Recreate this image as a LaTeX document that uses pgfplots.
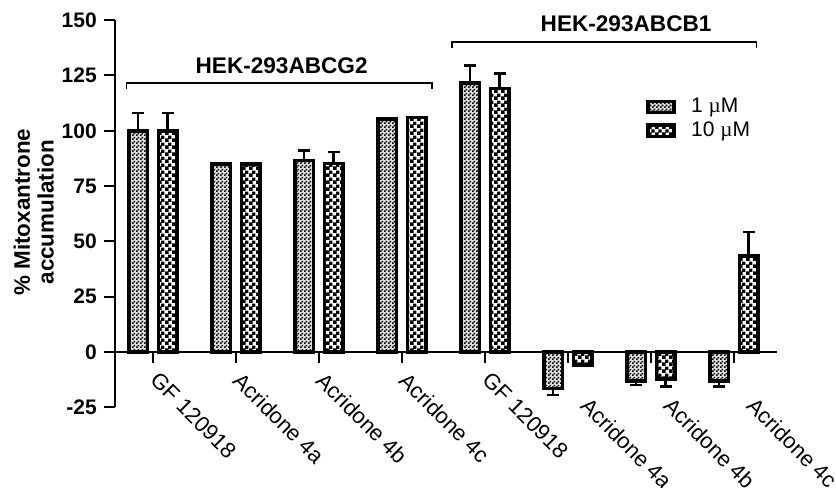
\documentclass[border=0pt]{standalone}
\usepackage{fontspec}
\setmainfont{Liberation Sans}
\newfontfamily\serifmu{Liberation Serif}
\usepackage{pgfplots}
\usepackage{pgfplotstable}
\pgfplotsset{compat=1.18}
\usetikzlibrary{patterns}

\pgfdeclarepatternformonly{finechecker}{\pgfpointorigin}{\pgfqpoint{2pt}{2pt}}{\pgfqpoint{2pt}{2pt}}{%
 \pgfpathrectangle{\pgfpointorigin}{\pgfqpoint{1pt}{1pt}}%
 \pgfpathrectangle{\pgfqpoint{1pt}{1pt}}{\pgfqpoint{1pt}{1pt}}%
 \pgfusepath{fill}}
\pgfdeclarepatternformonly{coarsechecker}{\pgfpointorigin}{\pgfqpoint{3.6pt}{3.6pt}}{\pgfqpoint{3.6pt}{3.6pt}}{%
 \pgfpathrectangle{\pgfpointorigin}{\pgfqpoint{2pt}{2pt}}%
 \pgfpathrectangle{\pgfqpoint{1.8pt}{1.8pt}}{\pgfqpoint{1.8pt}{1.8pt}}%
 \pgfusepath{fill}}

\pgfplotstableread{
x y ep em
0 100 8 0
1 85 0 0
2 86.5 4.5 0
3 105.2 0 0
4 121.5 7.9 0
5 -16.5 0 2.9
6 -13 0 2
7 -13 0 2.7
}\lowdose
\pgfplotstableread{
x y ep em
0 100 8 0
1 85 0 0
2 85.3 5.1 0
3 106 0 0
4 119.2 6.8 0
5 -5.9 0 0
6 -12.2 0 3.5
7 43.4 10.9 0
}\highdose

\begin{document}
\begin{tikzpicture}
\begin{axis}[
  x=41.5pt, y=1.106pt,
  xmin=-0.46, xmax=7.52, ymin=-25, ymax=150,
  axis x line*=middle, axis y line*=left,
  axis line style={line width=1pt},
  clip=false,
  ybar=5.5pt, bar width=9.3pt,
  ytick={-25,0,...,150},
  tick align=outside, major tick length=5.5pt,
  tick style={line width=1pt, black},
  xtick={0,1,2,3,4},
  xticklabels={GF 120918, Acridone 4a, Acridone 4b, Acridone 4c, GF 120918},
  extra x ticks={5,6,7},
  extra x tick labels={Acridone 4a, Acridone 4b, Acridone 4c},
  extra x tick style={xticklabel style={xshift=14.4pt, yshift=-3.3pt}},
  xticklabel style={anchor=north west, font=\fontsize{11}{11}\selectfont, xshift=3.5pt, yshift=1pt, rotate=-45},
  yticklabel style={font=\fontsize{10.5}{10.5}\selectfont\bfseries},
  /pgf/number format/assume math mode=true,
  ylabel={\% Mitoxantrone\\accumulation},
  ylabel style={align=center, font=\fontsize{11.2}{11.8}\selectfont\bfseries,
    at={(axis description cs:-0.1224,0.504)}, anchor=center},
  legend style={at={(axis description cs:0.802,0.803)}, anchor=north west,
    draw=none, fill=none, font=\fontsize{10.5}{10.5}\selectfont,
    row sep=1.3pt, inner sep=0pt, nodes={inner sep=0.8pt}, cells={anchor=west}},
  legend image code/.code={\draw[#1, line width=1.6pt] (0pt,-2.8pt) rectangle (13pt,2.8pt);},
  error bars/y dir=both, error bars/y explicit,
  error bars/error bar style={line width=1.3pt, black, solid},
  error bars/error mark options={line width=1.3pt, mark size=3pt, black, rotate=90},
]
\addplot[draw=black, line width=1.8pt, fill=gray!25, postaction={pattern=finechecker}]
  table[x=x, y=y, y error plus=ep, y error minus=em] {\lowdose};
\addplot[draw=black, line width=1.8pt, fill=white, postaction={pattern=coarsechecker}]
  table[x=x, y=y, y error plus=ep, y error minus=em] {\highdose};
\legend{\hspace{7pt}1 {\serifmu µ}M, \hspace{7pt}10 {\serifmu µ}M}

\draw[line width=0.9pt] (axis cs:-0.32,118.9) -- (axis cs:-0.32,121.5) -- (axis cs:3.365,121.5) -- (axis cs:3.365,118.9);
\node[font=\bfseries\fontsize{11.3}{11.5}\selectfont] at (axis cs:1.55,129.4) {HEK-293ABCG2};
\draw[line width=0.9pt] (axis cs:3.6,137.4) -- (axis cs:3.6,140.3) -- (axis cs:7.27,140.3) -- (axis cs:7.27,137.4);
\node[font=\bfseries\fontsize{11.3}{11.5}\selectfont] at (axis cs:5.7,148.3) {HEK-293ABCB1};

\coordinate (bbA) at (axis cs:-1.8434,159.13);
\coordinate (bbB) at (axis cs:8.229,-61.48);
\end{axis}
\pgfresetboundingbox
\path[use as bounding box] (bbA) rectangle (bbB);
\end{tikzpicture}
\end{document}
